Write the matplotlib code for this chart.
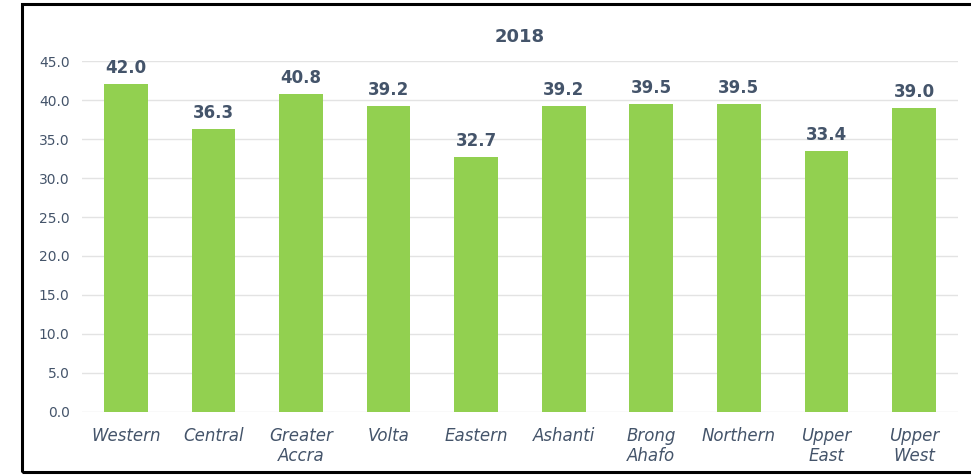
import matplotlib
matplotlib.use("Agg")
import matplotlib.pyplot as plt
from matplotlib.patches import Rectangle

categories = ["Western", "Central", "Greater\nAccra", "Volta", "Eastern", "Ashanti",
              "Brong\nAhafo", "Northern", "Upper\nEast", "Upper\nWest"]
values = [42.0, 36.3, 40.8, 39.2, 32.7, 39.2, 39.5, 39.5, 33.4, 39.0]
yticks = [0, 5, 10, 15, 20, 25, 30, 35, 40, 45]
title = "2018"

text_color = "#44546A"
bar_color = "#92D050"
grid_color = "#E3E3E3"

fig = plt.figure(figsize=(9.71, 4.76), dpi=100)
ax = fig.add_axes([0.0845, 0.1345, 0.902, 0.7373])

x = list(range(len(categories)))
bars = ax.bar(x, values, width=0.5, color=bar_color, zorder=3)
for xi, v in zip(x, values):
    ax.text(xi, v + 0.9, f"{v:.1f}", ha="center", va="bottom", fontsize=12,
            fontweight="bold", color=text_color)

ax.set_xlim(-0.5, len(categories) - 0.5)
ax.set_ylim(0, 45)
ax.set_yticks(yticks)
ax.set_yticklabels([f"{t:.1f}" for t in yticks], fontsize=10, color=text_color)
ax.set_xticks(x)
ax.set_xticklabels(categories, fontsize=12, style="italic", color=text_color, linespacing=1.15)
ax.tick_params(axis="both", length=0)
ax.tick_params(axis="y", pad=9)
ax.tick_params(axis="x", pad=10.5)
ax.grid(axis="y", color=grid_color, linewidth=1, zorder=0)
for s in ax.spines.values():
    s.set_visible(False)

ax.set_title(title, fontsize=13, fontweight="bold", color=text_color, pad=14)

fig.patches.append(Rectangle((22 / 971, 4 / 476), 1.0, 468 / 476, transform=fig.transFigure,
                             fill=False, edgecolor="black", linewidth=2.2, zorder=10))

fig.savefig("out.png", dpi=100)
